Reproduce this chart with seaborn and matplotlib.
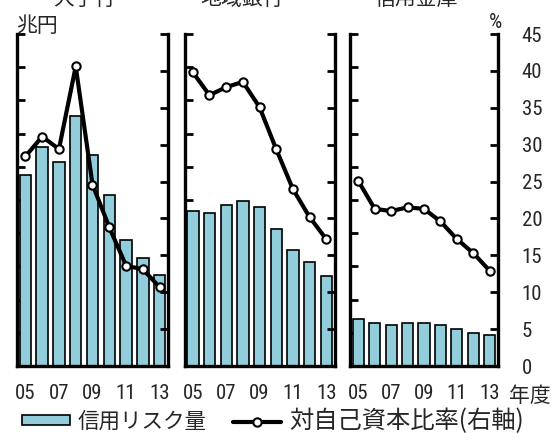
import numpy as np
import seaborn as sns
import matplotlib.pyplot as plt
from matplotlib.patches import Patch
from matplotlib.lines import Line2D

# Data (left axis in 兆円, right axis in %)
years = ["05", "06", "07", "08", "09", "10", "11", "12", "13"]
panel_titles = ["大手行", "地域銀行", "信用金庫"]

risk_major = [5.75, 6.6, 6.13, 7.53, 6.36, 5.14, 3.79, 3.25, 2.75]
risk_regional = [4.66, 4.61, 4.84, 4.96, 4.78, 4.12, 3.5, 3.13, 2.71]
risk_shinkin = [1.42, 1.29, 1.24, 1.30, 1.30, 1.24, 1.12, 1.0, 0.94]

ratio_major = [28.4, 31.1, 29.4, 40.6, 24.6, 18.8, 13.6, 13.1, 10.7]
ratio_regional = [39.8, 36.7, 37.8, 38.5, 35.1, 29.4, 24.0, 20.2, 17.2]
ratio_shinkin = [25.1, 21.3, 21.0, 21.5, 21.3, 19.6, 17.2, 15.3, 12.9]

xtick_labels = ["05", "07", "09", "11", "13"]
right_ticks = list(range(0, 50, 5))
left_ticks = list(range(0, 11))

risks = [risk_major, risk_regional, risk_shinkin]
ratios = [ratio_major, ratio_regional, ratio_shinkin]

bar_color = "#92CDDC"
num_font = ["Roboto Condensed", "Noto Sans CJK JP", "DejaVu Sans"]
jp_font = ["Noto Sans CJK JP", "DejaVu Sans"]

sns.set_style("white")
plt.rcParams["font.family"] = jp_font

W, H = 553, 434
fig = plt.figure(figsize=(W / 100, H / 100), dpi=100)

# panel edges in pixels
panel_px = [(17, 168), (184.5, 334.5), (350, 498)]
top_px, bot_px = 34, 366

for i in range(3):
    x0, x1 = panel_px[i]
    ax = fig.add_axes([x0 / W, 1 - bot_px / H, (x1 - x0) / W, (bot_px - top_px) / H])
    sns.barplot(x=years, y=risks[i], color=bar_color, saturation=1,
                edgecolor="black", linewidth=1.2, width=0.68, ax=ax)
    ax.set_xlim(-0.5, 8.5)
    ax.set_ylim(0, 10)
    ax.set_yticks(left_ticks)
    ax.set_yticklabels([])
    ax.set_xlabel("")
    ax.set_ylabel("")
    ax.set_xticks([-0.5, 1.5, 3.5, 5.5, 7.5])
    ax.set_xticklabels([])
    ax.set_xticks([0, 2, 4, 6, 8], minor=True)
    ax.set_xticklabels(xtick_labels, minor=True, family=num_font, fontsize=15)
    ax.tick_params(axis="x", which="major", direction="out", length=5, width=2, color="black")
    ax.tick_params(axis="x", which="minor", length=0, pad=13)
    ax.tick_params(axis="y", direction="in", length=6, width=2, color="black", left=True)
    for s in ["left", "bottom"]:
        ax.spines[s].set_linewidth(2.4)
        ax.spines[s].set_color("black")
    ax.spines["top"].set_visible(False)
    ax.spines["right"].set_visible(False)

    ax2 = ax.twinx()
    sns.lineplot(x=np.arange(9), y=ratios[i], ax=ax2, color="black", linewidth=3,
                 marker="o", markersize=6, markerfacecolor="white",
                 markeredgecolor="black", markeredgewidth=1.5)
    ax2.set_xlim(-0.5, 8.5)
    ax2.set_ylim(0, 45)
    ax2.set_yticks(right_ticks)
    ax2.set_ylabel("")
    ax2.tick_params(axis="y", direction="in", length=6, width=2, color="black", right=True)
    if i == 2:
        ax2.set_yticklabels([str(t) for t in right_ticks], family=num_font, fontsize=15)
        ax2.tick_params(axis="y", pad=17)
    else:
        ax2.set_yticklabels([])
    for s in ["top", "left", "bottom"]:
        ax2.spines[s].set_visible(False)
    ax2.spines["right"].set_linewidth(2.4)
    ax2.spines["right"].set_color("black")

# titles (cut at the top edge as in the reference)
title_x = [84, 242, 416]
for t, x in zip(panel_titles, title_x):
    fig.text(x / W, 1 + 1 / H, t, ha="center", va="center", fontsize=15)

fig.text(37 / W, 1 - 26 / H, "兆円", ha="center", va="center", fontsize=15)
fig.text(496 / W, 1 - 22 / H, "%", ha="center", va="center", fontsize=15, family=num_font)
fig.text(530 / W, 1 - 396 / H, "年度", ha="center", va="center", fontsize=15)

handles = [
    Patch(facecolor=bar_color, edgecolor="black", linewidth=1.2),
    Line2D([], [], color="black", linewidth=3, marker="o", markersize=6,
           markerfacecolor="white", markeredgecolor="black", markeredgewidth=1.5),
]
leg = fig.legend(handles, ["信用リスク量", "対自己資本比率(右軸)"], ncol=2, frameon=False,
                 loc="center left", bbox_to_anchor=(22 / W, 1 - 421 / H),
                 borderpad=0, borderaxespad=0, fontsize=15.5, handlelength=2.23,
                 handleheight=0.33, handletextpad=0.37, columnspacing=1.2)
leg.get_texts()[1].set_fontsize(17.5)

fig.savefig("out.png", dpi=100)
